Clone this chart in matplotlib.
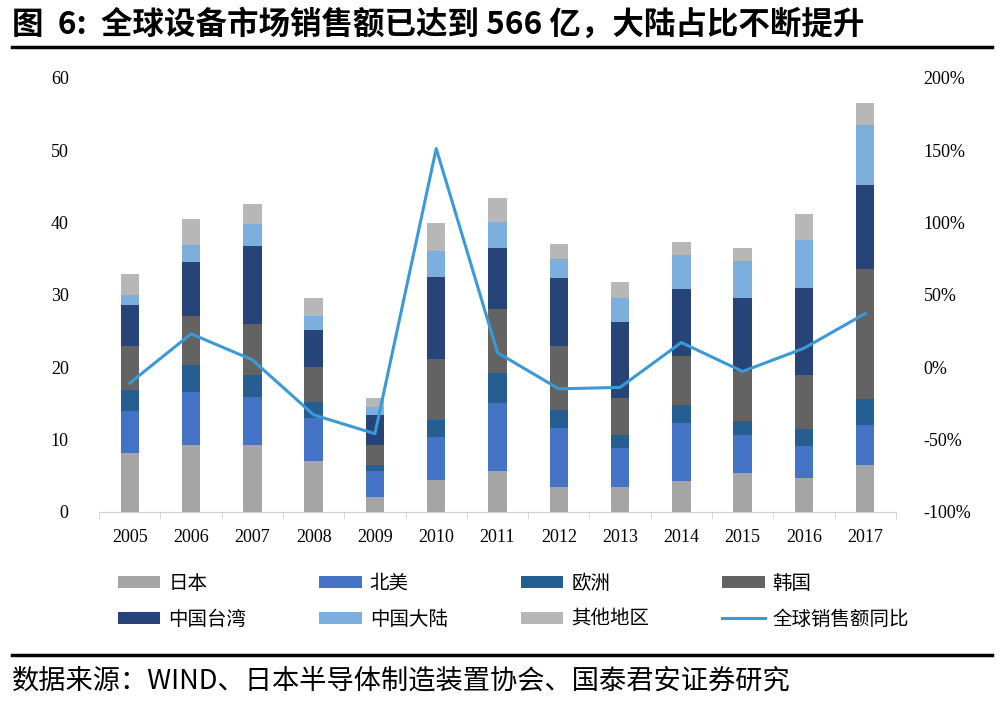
import matplotlib
matplotlib.use("Agg")
import matplotlib.pyplot as plt
from matplotlib.lines import Line2D
from matplotlib.ticker import FuncFormatter
import numpy as np

plt.rcParams['font.family'] = ['Noto Sans CJK SC', 'DejaVu Sans']

# 年份与各地区设备销售额（十亿美元）
years = ["2005", "2006", "2007", "2008", "2009", "2010", "2011",
         "2012", "2013", "2014", "2015", "2016", "2017"]
japan = [8.2, 9.2, 9.3, 7.0, 2.1, 4.4, 5.7, 3.4, 3.4, 4.2, 5.4, 4.7, 6.5]
north_america = [5.7, 7.3, 6.6, 5.9, 3.5, 5.9, 9.4, 8.2, 5.4, 8.1, 5.2, 4.4, 5.5]
europe = [3.0, 3.8, 3.0, 2.3, 0.9, 2.4, 4.1, 2.5, 1.8, 2.4, 2.0, 2.3, 3.6]
korea = [6.0, 6.8, 7.1, 4.8, 2.7, 8.4, 8.8, 8.8, 5.2, 6.9, 6.8, 7.5, 18.0]
taiwan = [5.7, 7.4, 10.8, 5.1, 4.2, 11.4, 8.4, 9.4, 10.5, 9.2, 10.2, 12.1, 11.5]
mainland = [1.3, 2.4, 3.0, 2.0, 1.1, 3.6, 3.6, 2.6, 3.3, 4.7, 5.0, 6.6, 8.3]
others = [3.0, 3.5, 2.8, 2.5, 1.2, 3.8, 3.4, 2.1, 2.1, 1.8, 1.8, 3.5, 3.1]
# 全球销售额同比（%）
yoy = [-11, 23, 5, -33, -46, 151, 10, -15, -14, 17, -3, 13, 37]

series = [
    ("日本", japan, "#A5A5A5"),
    ("北美", north_america, "#4472C4"),
    ("欧洲", europe, "#255E91"),
    ("韩国", korea, "#636363"),
    ("中国台湾", taiwan, "#264478"),
    ("中国大陆", mainland, "#7CAFDD"),
    ("其他地区", others, "#B7B7B7"),
]

fig = plt.figure(figsize=(10.02, 7.06), dpi=100)
ax = fig.add_axes([0.099, 0.275, 0.795, 0.615])

x = np.arange(len(years))
bottom = np.zeros(len(years))
handles = []
for name, vals, color in series:
    b = ax.bar(x, vals, width=0.3, bottom=bottom, color=color, label=name)
    bottom += np.array(vals)
    handles.append(b)

ax.set_xlim(-0.5, len(years) - 0.5)
ax.set_ylim(0, 60)
ax.set_yticks(range(0, 61, 10))
ax.set_xticks(x)
ax.set_xticklabels(years)
ax.set_xticks(np.arange(-0.5, len(years), 1), minor=True)

for s in ["top", "left", "right"]:
    ax.spines[s].set_visible(False)
ax.spines["bottom"].set_color("#D0D0D0")
ax.tick_params(axis="x", which="major", length=0, pad=12)
ax.tick_params(axis="x", which="minor", length=5, color="#D0D0D0")
ax.tick_params(axis="y", length=0, pad=22)
for lab in ax.get_xticklabels() + ax.get_yticklabels():
    lab.set_fontfamily("Liberation Serif")
    lab.set_fontsize(13)

ax2 = ax.twinx()
ln, = ax2.plot(x, yoy, color="#3A9AD9", linewidth=2.2, label="全球销售额同比")
ax2.set_ylim(-100, 200)
ax2.set_yticks(range(-100, 201, 50))
ax2.yaxis.set_major_formatter(FuncFormatter(lambda v, p: f"{v:.0f}%"))
for s in ["top", "left", "right", "bottom"]:
    ax2.spines[s].set_visible(False)
ax2.tick_params(axis="y", length=0, pad=20)
for lab in ax2.get_yticklabels():
    lab.set_fontfamily("Liberation Serif")
    lab.set_fontsize(13)

# 图例按行排列：matplotlib 按列填充，所以先交错排列
items = handles + [ln]
order = [items[i] for i in (0, 4, 1, 5, 2, 6, 3, 7)]
fig.legend(handles=order, labels=[h.get_label() for h in order], ncol=4,
           loc="upper left", bbox_to_anchor=(0.100, 0.213), frameon=False,
           fontsize=14, handlelength=2.2, handleheight=0.6, handletextpad=0.4,
           columnspacing=3.75, labelspacing=0.75)

fig.text(0.012, 0.965, "图  6:  全球设备市场销售额已达到 566 亿，大陆占比不断提升",
         fontsize=22.7, fontweight="bold", va="center", ha="left")
fig.add_artist(Line2D([0.012, 0.99], [0.933, 0.933], color="black", linewidth=2.5))
fig.add_artist(Line2D([0.012, 0.99], [0.072, 0.072], color="black", linewidth=2.5))
fig.text(0.012, 0.036, "数据来源：WIND、日本半导体制造装置协会、国泰君安证券研究",
         fontsize=19.6, va="center", ha="left")

fig.savefig("out.png", dpi=100)
